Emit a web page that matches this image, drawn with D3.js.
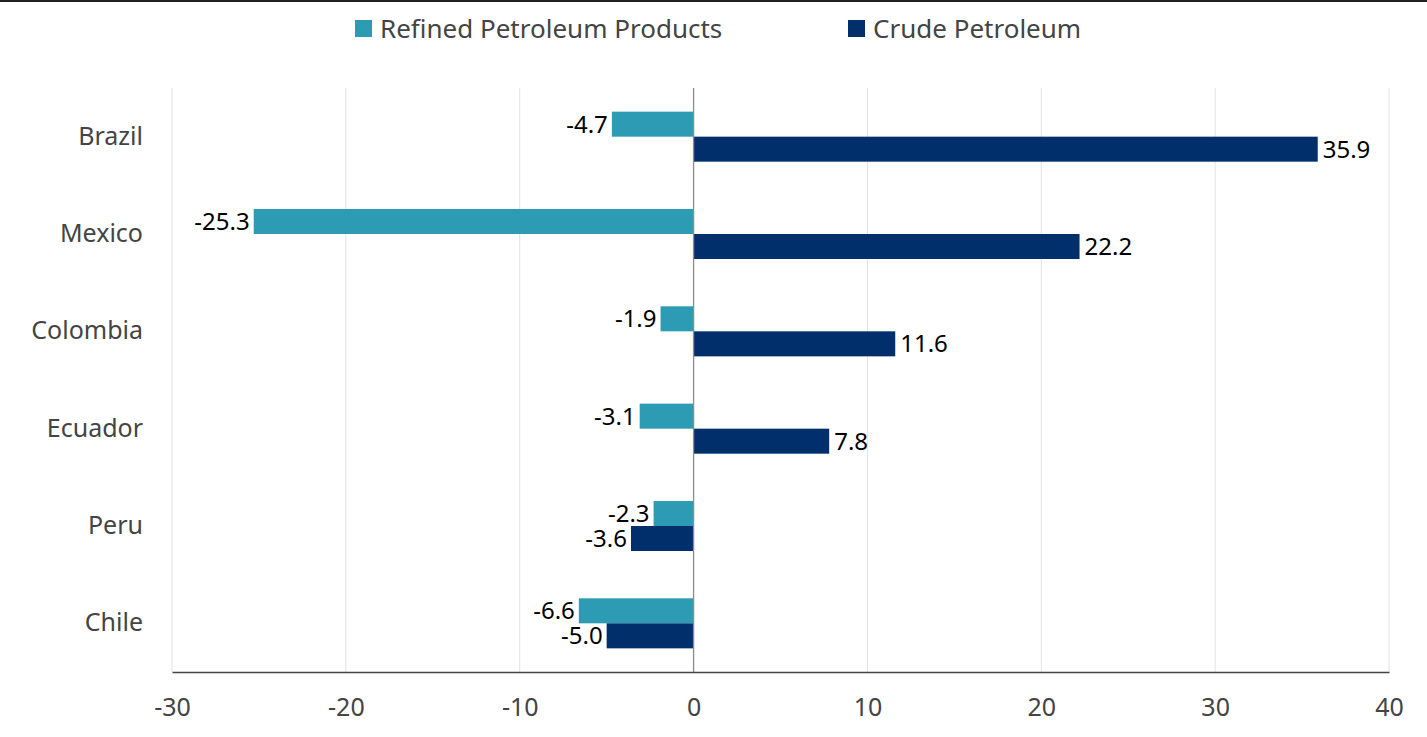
<!DOCTYPE html>
<html>
<head>
<meta charset="utf-8">
<script src="https://cdn.jsdelivr.net/npm/d3@7"></script>
<style>
  body { margin: 0; background: #fff; }
  svg text { font-family: "Noto Sans", "Open Sans", sans-serif; }
</style>
</head>
<body>
<svg id="chart" width="1427" height="737"></svg>
<script>
var countries = ["Brazil", "Mexico", "Colombia", "Ecuador", "Peru", "Chile"];
var refined = [-4.7, -25.3, -1.9, -3.1, -2.3, -6.6];
var crude = [35.9, 22.2, 11.6, 7.8, -3.6, -5.0];
var seriesNames = ["Refined Petroleum Products", "Crude Petroleum"];
var seriesColors = ["#2e9bb4", "#002f6c"];
var xTicks = [-30, -20, -10, 0, 10, 20, 30, 40];

var margin = {top: 88, right: 38, bottom: 65, left: 172},
    width = 1427 - margin.left - margin.right,
    height = 737 - margin.top - margin.bottom;

var svg = d3.select("#chart");

// thin dark rule along the top edge
svg.append("rect")
    .attr("x", 0).attr("y", 0)
    .attr("width", 1427).attr("height", 2)
    .attr("fill", "#222");

var g = svg.append("g")
    .attr("transform", "translate(" + margin.left + "," + margin.top + ")");

var x = d3.scaleLinear()
    .domain([-30, 40])
    .range([0, width]);

var y = d3.scaleBand()
    .domain(countries)
    .range([0, height])
    .paddingInner(0.486)
    .paddingOuter(0.243);

var ySub = d3.scaleBand()
    .domain([0, 1])
    .range([0, y.bandwidth()]);

// gridlines
g.append("g")
    .selectAll("line")
    .data(xTicks)
    .enter().append("line")
    .attr("x1", d => x(d)).attr("x2", d => x(d))
    .attr("y1", 0).attr("y2", height)
    .attr("stroke", "#e3e3e3")
    .attr("stroke-width", 1);

var rows = countries.map(function(c, i) {
  return {country: c, values: [refined[i], crude[i]]};
});

var row = g.selectAll("g.row")
    .data(rows)
    .enter().append("g")
    .attr("class", "row")
    .attr("transform", d => "translate(0," + y(d.country) + ")");

row.selectAll("rect")
    .data(d => d.values)
    .enter().append("rect")
    .attr("x", d => x(Math.min(0, d)))
    .attr("y", (d, i) => ySub(i))
    .attr("width", d => Math.abs(x(d) - x(0)))
    .attr("height", ySub.bandwidth())
    .attr("fill", (d, i) => seriesColors[i]);

row.selectAll("text.val")
    .data(d => d.values)
    .enter().append("text")
    .attr("class", "val")
    .attr("x", d => d < 0 ? x(d) - 4 : x(d) + 5)
    .attr("y", (d, i) => ySub(i) + ySub.bandwidth() / 2)
    .attr("dy", "0.36em")
    .attr("text-anchor", d => d < 0 ? "end" : "start")
    .attr("font-size", 24)
    .attr("fill", "#000")
    .text(d => d.toFixed(1));

// zero line
g.append("line")
    .attr("x1", x(0)).attr("x2", x(0))
    .attr("y1", 0).attr("y2", height)
    .attr("stroke", "#8c8c8c")
    .attr("stroke-width", 1.3);

// x axis
var xAxis = d3.axisBottom(x)
    .tickValues(xTicks)
    .tickSize(0)
    .tickPadding(26)
    .tickFormat(d => String(d));

var xg = g.append("g")
    .attr("transform", "translate(0," + height + ")")
    .call(xAxis);
xg.select(".domain").attr("stroke", "#444").attr("stroke-width", 1.5);
xg.selectAll("text")
    .attr("font-size", 25)
    .attr("fill", "#444")
    .style("font-family", "'Noto Sans', sans-serif");

// y axis labels
var yAxis = d3.axisLeft(y)
    .tickSize(0)
    .tickPadding(29);
var yg = g.append("g").call(yAxis);
yg.select(".domain").remove();
yg.selectAll("text")
    .attr("font-size", 25)
    .attr("fill", "#444")
    .style("font-family", "'Noto Sans', sans-serif");

// legend
var legendX = [355, 848];
var legend = svg.append("g")
    .selectAll("g")
    .data(seriesNames)
    .enter().append("g")
    .attr("transform", (d, i) => "translate(" + legendX[i] + ",20)");
legend.append("rect")
    .attr("width", 17).attr("height", 17)
    .attr("fill", (d, i) => seriesColors[i]);
legend.append("text")
    .attr("x", 25).attr("y", 8.5)
    .attr("dy", "0.36em")
    .attr("font-size", 26)
    .attr("fill", "#444")
    .text(d => d);
</script>
</body>
</html>
